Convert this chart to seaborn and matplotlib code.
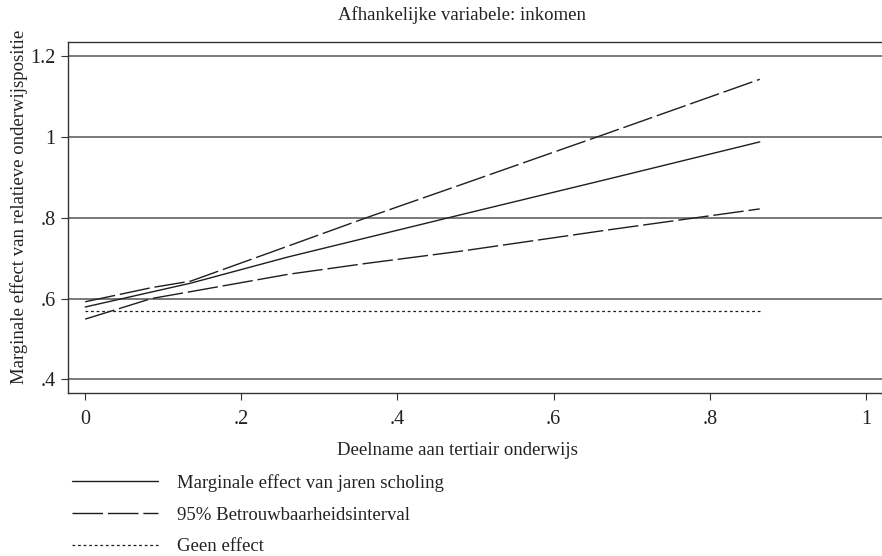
import numpy as np
import pandas as pd
import seaborn as sns
from matplotlib import pyplot as plt
from matplotlib.lines import Line2D

# values
x_effect = [0.0, 0.135, 0.26, 0.48, 0.67, 0.864]
effect = [0.579, 0.638, 0.703, 0.807, 0.896, 0.988]

x_ci = [0.0, 0.085, 0.135, 0.26, 0.36, 0.48, 0.67, 0.864]
ci_upper = [0.592, 0.627, 0.643, 0.730, 0.800, 0.881, 1.010, 1.143]
ci_lower = [0.549, 0.600, 0.617, 0.660, 0.687, 0.717, 0.770, 0.822]

x_none = [0.0, 0.864]
no_effect = [0.569, 0.569]

xticks = [0, 0.2, 0.4, 0.6, 0.8, 1]
xticklabels = ['0', '.2', '.4', '.6', '.8', '1']
yticks = [0.4, 0.6, 0.8, 1.0, 1.2]
yticklabels = ['.4', '.6', '.8', '1', '1.2']

labels = ['Marginale effect van jaren scholing',
          '95% Betrouwbaarheidsinterval',
          'Geen effect']

LINE = '#1e1e1e'
GRID = '#555555'
DASH = (0, (22, 3.5))
DOT = (0, (2, 2))
FS = 13.5

sns.set_theme(style='white')
plt.rcParams['font.family'] = ['Liberation Serif', 'DejaVu Serif']
plt.rcParams['lines.scale_dashes'] = False

fig = plt.figure(figsize=(8.82, 5.56), dpi=100)
ax = fig.add_axes([68 / 882, 163 / 556, 814 / 882, 351 / 556])

df_eff = pd.DataFrame({'x': x_effect, 'y': effect})
df_ci = pd.DataFrame({'x': x_ci, 'upper': ci_upper, 'lower': ci_lower})
df_none = pd.DataFrame({'x': x_none, 'y': no_effect})

sns.lineplot(data=df_eff, x='x', y='y', ax=ax, color=LINE, linewidth=1.0)
sns.lineplot(data=df_ci, x='x', y='upper', ax=ax, color=LINE, linewidth=1.0, linestyle=DASH)
sns.lineplot(data=df_ci, x='x', y='lower', ax=ax, color=LINE, linewidth=1.0, linestyle=DASH)
sns.lineplot(data=df_none, x='x', y='y', ax=ax, color=LINE, linewidth=0.9, linestyle=DOT)

for yv in yticks:
    ax.axhline(yv, color=GRID, linewidth=1.1, zorder=0)

ax.set_xlim(-0.022, 1.0206)
ax.set_ylim(0.366, 1.2354)
ax.set_xticks(xticks)
ax.set_xticklabels(xticklabels)
ax.set_yticks(yticks)
ax.set_yticklabels(yticklabels)
ax.tick_params(axis='both', which='major', length=5, width=0.8, color='#333333',
               labelsize=14.5, labelcolor='#222222', direction='out')
ax.tick_params(axis='x', pad=7)
ax.tick_params(axis='y', pad=4)
ax.xaxis.set_ticks_position('bottom')
ax.yaxis.set_ticks_position('left')

for side in ['left', 'top', 'bottom']:
    ax.spines[side].set_visible(True)
    ax.spines[side].set_color('#333333')
    ax.spines[side].set_linewidth(1.0)
ax.spines['right'].set_visible(False)

ax.set_title('Afhankelijke variabele: inkomen', fontsize=FS, color='#222222',
             x=0.484, pad=16)
ax.set_xlabel('Deelname aan tertiair onderwijs', fontsize=FS, color='#222222')
ax.xaxis.set_label_coords(0.479, -0.14)
ax.set_ylabel('Marginale effect van relatieve onderwijspositie', fontsize=FS,
              color='#222222')
ax.yaxis.set_label_coords(-0.049, 0.53)

handles = [Line2D([], [], color=LINE, linewidth=1.0),
           Line2D([], [], color=LINE, linewidth=1.0, linestyle=DASH),
           Line2D([], [], color=LINE, linewidth=0.9, linestyle=DOT)]
fig.legend(handles, labels, loc='upper left', bbox_to_anchor=(72 / 882, 1 - 474 / 556),
           frameon=False, fontsize=FS, handlelength=4.6, handletextpad=1.0,
           labelspacing=0.78, borderpad=0, borderaxespad=0, labelcolor='#222222')

plt.savefig('out.png', dpi=100)
